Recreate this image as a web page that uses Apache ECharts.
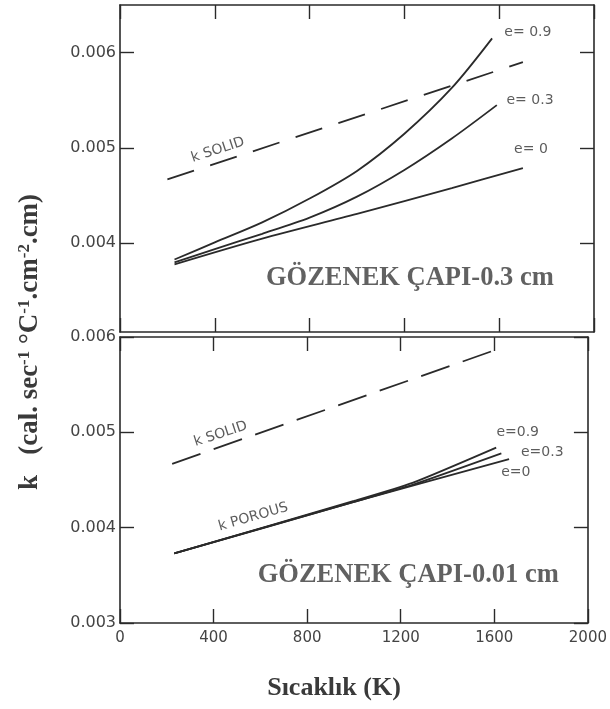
<!DOCTYPE html>
<html><head><meta charset="utf-8">
<script src="https://cdn.jsdelivr.net/npm/echarts@6/dist/echarts.min.js"></script>
<style>html,body{margin:0;padding:0;background:#fff}#c{width:610px;height:709px}</style>
</head><body><div id="c"></div>
<script>
// ---------- data ----------
// Top panel: pore diameter 0.3 cm
const topSolidT = [200, 1700];
const topSolidK = [0.00467, 0.00590];
const topE09T = [230, 400, 600, 800, 1000, 1200, 1400, 1570];
const topE09K = [0.00383, 0.00401, 0.00422, 0.00447, 0.00476, 0.00515, 0.00563, 0.00615];
const topE03T = [230, 400, 600, 800, 1000, 1200, 1400, 1590];
const topE03K = [0.00380, 0.00394, 0.00410, 0.00427, 0.00449, 0.00477, 0.00510, 0.00545];
const topE0T = [230, 600, 1000, 1400, 1700];
const topE0K = [0.00378, 0.00405, 0.00431, 0.00458, 0.00479];
// Bottom panel: pore diameter 0.01 cm
const botSolidT = [223, 1600];
const botSolidK = [0.00467, 0.00586];
const botE09T = [232, 1000, 1250, 1608];
const botE09K = [0.00373, 0.00428, 0.00447, 0.00484];
const botE03T = [232, 1000, 1250, 1630];
const botE03K = [0.00373, 0.00427, 0.00445, 0.00478];
const botE0T = [232, 1000, 1663];
const botE0K = [0.00373, 0.00427, 0.00472];
// ticks
const xTickLabels = [0, 400, 800, 1200, 1600, 2000];
const topYTicks = [0.004, 0.005, 0.006];
const botYTicks = [0.003, 0.004, 0.005, 0.006];
// annotation texts (data coords)
const topNotes = [
  {text: 'e= 0.9', t: 1721, k: 0.006217, rot: 0},
  {text: 'e= 0.3', t: 1730, k: 0.005504, rot: 0},
  {text: 'e= 0', t: 1734, k: 0.004990, rot: 0},
  {text: 'k SOLID', t: 413, k: 0.004979, rot: 18}
];
const botNotes = [
  {text: 'e=0.9', t: 1700, k: 0.005003, rot: 0},
  {text: 'e=0.3', t: 1805, k: 0.004794, rot: 0},
  {text: 'e=0', t: 1692, k: 0.004584, rot: 0},
  {text: 'k SOLID', t: 430, k: 0.004982, rot: 18},
  {text: 'k POROUS', t: 570, k: 0.004112, rot: 16}
];
const topTitle = 'GÖZENEK ÇAPI-0.3 cm';
const botTitle = 'GÖZENEK ÇAPI-0.01 cm';
const xTitle = 'Sıcaklık (K)';

// ---------- chart ----------
const INK = '#2a2a2a';
const TXT = '#3a3a3a';
const SANS = '"DejaVu Sans", sans-serif';
const SERIF = '"Liberation Serif", "Times New Roman", serif';
const pairs = (a, b) => a.map((v, i) => [v, b[i]]);

const chart = echarts.init(document.getElementById('c'), null, {renderer: 'canvas'});

function xAx(grid, pos, showLabel) {
  return {
    type: 'value', gridIndex: grid, position: pos, min: 0, max: 2000, interval: 400,
    axisLine: {show: true, onZero: false, lineStyle: {color: INK, width: 1.6}},
    axisTick: {show: true, inside: true, length: 14, lineStyle: {color: INK, width: 1.4}},
    axisLabel: {show: showLabel, color: '#444', fontFamily: SANS, fontSize: 15, margin: 8,
      customValues: xTickLabels, formatter: v => String(v)},
    splitLine: {show: false}
  };
}
function yAx(grid, pos, min, max, ticks, showLabel) {
  return {
    type: 'value', gridIndex: grid, position: pos, min: min, max: max,
    axisLine: {show: true, onZero: false, lineStyle: {color: INK, width: 1.6}},
    axisTick: {show: true, inside: true, length: 14, customValues: ticks,
      lineStyle: {color: INK, width: 1.4}},
    axisLabel: {show: showLabel, customValues: ticks, color: '#444', fontFamily: SANS,
      fontSize: 16, margin: 4, formatter: v => Number(v).toFixed(3)},
    splitLine: {show: false}
  };
}
function lineS(x, y, t, k, dashed, smooth) {
  return {
    type: 'line', xAxisIndex: x, yAxisIndex: y, data: pairs(t, k),
    showSymbol: false, symbol: 'none', smooth: smooth || false,
    lineStyle: {color: INK, width: 1.8, type: dashed || 'solid'}, silent: true, z: 3
  };
}
function notesS(x, y, notes) {
  return {
    type: 'scatter', xAxisIndex: x, yAxisIndex: y, symbolSize: 1, silent: true,
    itemStyle: {color: 'rgba(0,0,0,0)'},
    data: notes.map(n => ({value: [n.t, n.k],
      label: {show: true, formatter: n.text, rotate: n.rot, position: 'inside',
        align: 'center', verticalAlign: 'middle',
        color: '#333', fontFamily: SANS, fontSize: 14}})),
    z: 4
  };
}
function titleS(x, y, t, k, text) {
  return {
    type: 'scatter', xAxisIndex: x, yAxisIndex: y, symbolSize: 1, silent: true,
    itemStyle: {color: 'rgba(0,0,0,0)'},
    data: [{value: [t, k], label: {show: true, formatter: text, position: 'inside',
      align: 'center', verticalAlign: 'middle',
      color: TXT, fontFamily: SERIF, fontWeight: 'bold', fontSize: 26.5}}],
    z: 4
  };
}

const option = {
  backgroundColor: '#fff',
  animation: false,
  grid: [
    {left: 120, right: 16, top: 5, height: 327, containLabel: false},
    {left: 120, right: 16, top: 337, height: 286, containLabel: false}
  ],
  xAxis: [
    xAx(0, 'bottom', false), xAx(0, 'top', false),
    xAx(1, 'bottom', true), xAx(1, 'top', false)
  ],
  yAxis: [
    yAx(0, 'left', 0.00307, 0.0065, topYTicks, true),
    yAx(0, 'right', 0.00307, 0.0065, topYTicks, false),
    yAx(1, 'left', 0.003, 0.006, botYTicks, true),
    yAx(1, 'right', 0.003, 0.006, botYTicks, false)
  ],
  series: [
    lineS(0, 0, topSolidT, topSolidK, [28, 17]),
    lineS(0, 0, topE09T, topE09K, null, 0.3),
    lineS(0, 0, topE03T, topE03K, null, 0.3),
    lineS(0, 0, topE0T, topE0K, null, 0.3),
    lineS(2, 2, botSolidT, botSolidK, [30, 14]),
    lineS(2, 2, botE09T, botE09K, null, 0.2),
    lineS(2, 2, botE03T, botE03K, null, 0.2),
    lineS(2, 2, botE0T, botE0K, null, 0.2),
    notesS(0, 0, topNotes),
    notesS(2, 2, botNotes),
    titleS(0, 0, 1223, 0.003636, topTitle),
    titleS(2, 2, 1232, 0.003503, botTitle)
  ],
  graphic: [{
    type: 'text', x: 30, y: 342, rotation: Math.PI / 2, silent: true,
    style: {
      text: 'k   (cal. sec{s|-1} °C{s|-1}.cm{s|-2}.cm)',
      align: 'center', verticalAlign: 'middle',
      textAlign: 'center', textVerticalAlign: 'middle',
      font: 'bold 27px ' + SERIF, fill: TXT,
      rich: {
        s: {fontSize: 17, fontWeight: 'bold', fontFamily: SERIF, fill: TXT, color: TXT,
            verticalAlign: 'top', lineHeight: 14}
      }
    }
  }, {
    type: 'text', x: 334, y: 688, silent: true,
    style: {
      text: xTitle, align: 'center', verticalAlign: 'middle',
      textAlign: 'center', textVerticalAlign: 'middle',
      font: 'bold 26px ' + SERIF, fill: TXT
    }
  }]
};
chart.setOption(option);
</script></body></html>
